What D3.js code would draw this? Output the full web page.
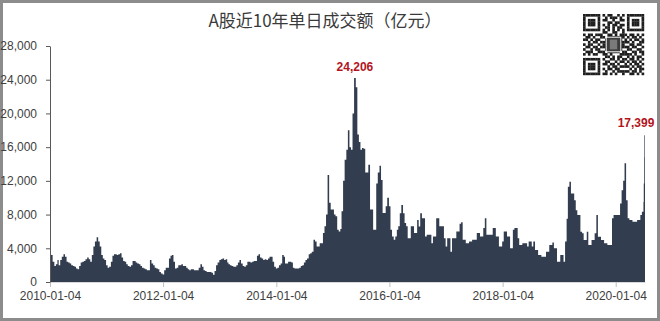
<!DOCTYPE html>
<html>
<head>
<meta charset="utf-8">
<script src="https://cdn.jsdelivr.net/npm/d3@7/dist/d3.min.js"></script>
<style>
html, body { margin: 0; padding: 0; background: #fff; }
svg { display: block; }
</style>
</head>
<body>
<div id="chart"></div>
<script>
// A股近10年单日成交额（亿元）: 3 readings a month (around the 1st, 11th, 21st)
const title = "A股近10年单日成交额（亿元）";
const slotDays = [1, 11, 21];
const years = [2010, 2011, 2012, 2013, 2014, 2015, 2016, 2017, 2018, 2019, 2020];

const vol2010 = [3300,3200,2400, 1900,2100,2600, 2000,2600,3000, 3300,3000,2400, 2300,2200,2000, 1900,1800,1600,
                 1500,1900,2300, 2400,2500,2700, 2900,2700,2400, 3200,4200,4800, 5300,4800,4200, 3200,2800,2600];
const vol2011 = [2000,1700,1800, 2400,3100,3300, 3300,3200,3300, 3400,2900,2500, 2400,2100,1900, 1800,2000,2500,
                 2500,2300,2200, 2100,1900,1700, 1600,1500,1400, 1400,2600,2200, 2000,1700,1600, 1500,1200,1000];
const vol2012 = [900,1400,1700, 1700,2800,3100, 3200,2400,1600, 1700,2000,2000, 2100,1900,1900, 1700,1500,1400,
                 1500,1500,1400, 1400,1400,1700, 2100,1800,1400, 1300,1200,1200, 1200,1100,850, 1300,2000,2300];
const vol2013 = [2600,2700,2800, 2600,2700,2300, 2100,2000,1900, 1800,1800,2000, 2300,2600,2200, 1900,1800,2000,
                 2400,2400,2300, 2400,2500,2500, 3100,3300,2900, 2800,2600,2700, 2600,2800,3000, 3000,2400,1800];
const vol2014 = [1600,1700,2000, 2200,3200,3000, 2200,2200,2400, 2400,2300,1700, 1600,1600,1600, 1700,1900,2000,
                 2300,2600,2800, 3300,3400,3600, 5000,4800,4200, 4200,4600,4600, 5800,6600,8000, 12700,9400,8600];
const vol2015 = [8600,8000,7800, 6200,6000,6300, 8400,12000,14500, 15700,18000,16000, 15700,20000,24206, 23100,17500,16600,
                 15700,15900,15800, 13000,13000,13900, 8600,8600,6200, 6200,11700,13000, 13800,12100,8200, 8200,9000,10000];
const vol2016 = [9000,6200,5400, 5000,5400,6200, 6600,8150,9140, 8150,7000,6600, 5200,5200,6600, 6600,5800,5800,
                 7360,6570,8150, 7550,7550,5400, 5600,5600,5600, 4600,5400,5400, 7550,7550,6600, 6600,6600,5200];
const vol2017 = [4200,5200,5200, 3600,5200,5200, 5200,6000,6000, 6900,7100,5000, 5000,4600,4600, 4800,4800,5000,
                 5000,5000,5800, 5800,5400,5400, 6400,7550,5600, 5600,5600,5600, 6400,6400,5400, 5400,4200,4200];
const vol2018 = [4800,6000,6000, 5400,5400,4000, 4000,6200,6400, 6400,5200,4400, 4400,4600,4600, 4600,4200,4800,
                 4800,4200,4800, 3800,3800,3200, 3200,3000,3000, 3000,3600,3600, 4400,4400,4700, 4000,4000,2400];
const vol2019 = [2400,3200,3200, 2400,4800,7500, 11300,11900,10500, 10500,9700,8500, 7950,7950,5970, 5770,4980,4980,
                 5970,4400,4400, 4980,4980,5770, 7950,5370,5370, 4980,4980,4600, 4600,4400,4400, 4400,7550,7950];
const vol2020 = [7950,7950,7950, 9300,10900,12000, 14100,9700,7550, 7350,7350,7150, 7150,7150,7350, 7350,7950,8340];
// last days of the series
const tailDates = ["2020-07-01", "2020-07-03", "2020-07-06", "2020-07-07"];
const tailVals = [9500, 11700, 14800, 17399];

const yTicks = [0, 4000, 8000, 12000, 16000, 20000, 24000, 28000];
const xTicks = ["2010-01-04", "2012-01-04", "2014-01-04", "2016-01-04", "2018-01-04", "2020-01-04"];
const xStart = "2010-01-04", xEnd = "2020-07-11";

// little QR code in the corner (decoration only)
const qrRows = [
  "1111111010110010101111111",
  "1000001001011101001000001",
  "1011101011001001101011101",
  "1011101000110110001011101",
  "1011101010101101101011101",
  "1000001001101011001000001",
  "1111111010101010101111111",
  "0000000011001100100000000",
  "1011011100110101110110101",
  "0110100110111111101011010",
  "1101011001111111010101101",
  "0010110111111111111010011",
  "1011001011111111100110110",
  "0110110111111111111011001",
  "1001011001111111001100110",
  "0111001110111110110011011",
  "1010110011010001111101001",
  "0000000001101011001010110",
  "1111111010011010110110101",
  "1000001001100101101011010",
  "1011101011011010010101101",
  "1011101000101101111010110",
  "1011101010110110000101011",
  "1000001001001011111011010",
  "1111111011010100100110101"
];

const W = 660, H = 321;
const parse = d3.timeParse("%Y-%m-%d");

// build the series
let series = [];
[vol2010, vol2011, vol2012, vol2013, vol2014, vol2015, vol2016, vol2017, vol2018, vol2019, vol2020].forEach(function(vals, k) {
  vals.forEach(function(v, i) {
    series.push({date: new Date(years[k], Math.floor(i / 3), slotDays[i % 3]), value: v});
  });
});
tailDates.forEach(function(d, i) { series.push({date: parse(d), value: tailVals[i]}); });
let last = series[series.length - 1];
series.push({date: parse(xEnd), value: last.value}); // closes the last step

let svg = d3.select("#chart").append("svg").attr("width", W).attr("height", H);

// frame
svg.append("rect").attr("x", 1.5).attr("y", 1.5).attr("width", W - 3).attr("height", H - 3)
  .style("fill", "#fff").style("stroke", "#8c8c8c").style("stroke-width", 3);

let x = d3.scaleTime().domain([parse(xStart), parse(xEnd)]).range([50, 645]);
let y = d3.scaleLinear().domain([0, 28000]).range([282, 46]);

svg.append("clipPath").attr("id", "plotclip").append("rect")
  .attr("x", 50).attr("y", 0).attr("width", 595).attr("height", 282);

// x axis (light) under the area
let xAxis = svg.append("g").attr("transform", "translate(0,282)")
  .call(d3.axisBottom(x).tickValues(xTicks.map(parse)).tickFormat(d3.timeFormat("%Y-%m-%d"))
    .tickSize(5).tickSizeOuter(0).tickPadding(4));
xAxis.select(".domain").style("stroke", "#d9d9d9");
xAxis.selectAll(".tick line").style("stroke", "#bfbfbf");
xAxis.selectAll("text").style("font-family", "'Liberation Sans', Arial, sans-serif")
  .style("font-size", "12px").style("fill", "#404040");

// the area
let area = d3.area().curve(d3.curveStepAfter)
  .x(function(d) { return x(d.date); })
  .y0(y(0))
  .y1(function(d) { return y(d.value); });

svg.append("path").datum(series)
  .attr("clip-path", "url(#plotclip)")
  .attr("d", area)
  .style("fill", "#323d4f");

// y axis
let yAxis = svg.append("g").attr("transform", "translate(50,0)")
  .call(d3.axisLeft(y).tickValues(yTicks).tickFormat(d3.format(",")).tickSize(4).tickSizeOuter(0).tickPadding(9));
yAxis.select(".domain").style("stroke", "#595959");
yAxis.selectAll(".tick line").style("stroke", "#595959");
yAxis.selectAll("text").style("font-family", "'Liberation Sans', Arial, sans-serif")
  .style("font-size", "12px").style("fill", "#404040");

// title
svg.append("text").attr("x", 325).attr("y", 27).attr("text-anchor", "middle")
  .style("font-family", "'Noto Sans CJK SC', sans-serif").style("font-size", "17px").style("fill", "#3a3a3a")
  .text(title);

// labels on the peak and on the last day
let fmt = d3.format(",");
let peak = series.reduce(function(a, b) { return b.value > a.value ? b : a; });
let peakIdx = series.indexOf(peak);
let lastDay = series[series.length - 2];
svg.append("text")
  .attr("x", (x(peak.date) + x(series[peakIdx + 1].date)) / 2)
  .attr("y", y(peak.value) - 7)
  .attr("text-anchor", "middle")
  .style("font-family", "'Liberation Sans', Arial, sans-serif").style("font-size", "12px")
  .style("font-weight", "bold").style("fill", "#b3141d")
  .text(fmt(peak.value));
svg.append("text")
  .attr("x", x(lastDay.date) + 10)
  .attr("y", y(lastDay.value) - 8)
  .attr("text-anchor", "end")
  .style("font-family", "'Liberation Sans', Arial, sans-serif").style("font-size", "12px")
  .style("font-weight", "bold").style("fill", "#b3141d")
  .text(fmt(lastDay.value));

// QR code
let qrSize = 61, qrX = 583, qrY = 14, cell = qrSize / qrRows.length;
let qr = svg.append("g").attr("transform", "translate(" + qrX + "," + qrY + ")");
qrRows.forEach(function(row, r) {
  row.split("").forEach(function(c, k) {
    if (c === "1") {
      qr.append("rect").attr("x", k * cell).attr("y", r * cell)
        .attr("width", cell + 0.2).attr("height", cell + 0.2).style("fill", "#1e1e1e");
    }
  });
});
qr.append("rect").attr("x", 9.5 * cell).attr("y", 9.5 * cell).attr("width", 6 * cell).attr("height", 6 * cell)
  .style("fill", "#3c3c3c").style("stroke", "#fff").style("stroke-width", 1);
qr.append("rect").attr("x", 11 * cell).attr("y", 10.5 * cell).attr("width", 3 * cell).attr("height", 4 * cell)
  .style("fill", "#7a7a7a");
</script>
</body>
</html>
